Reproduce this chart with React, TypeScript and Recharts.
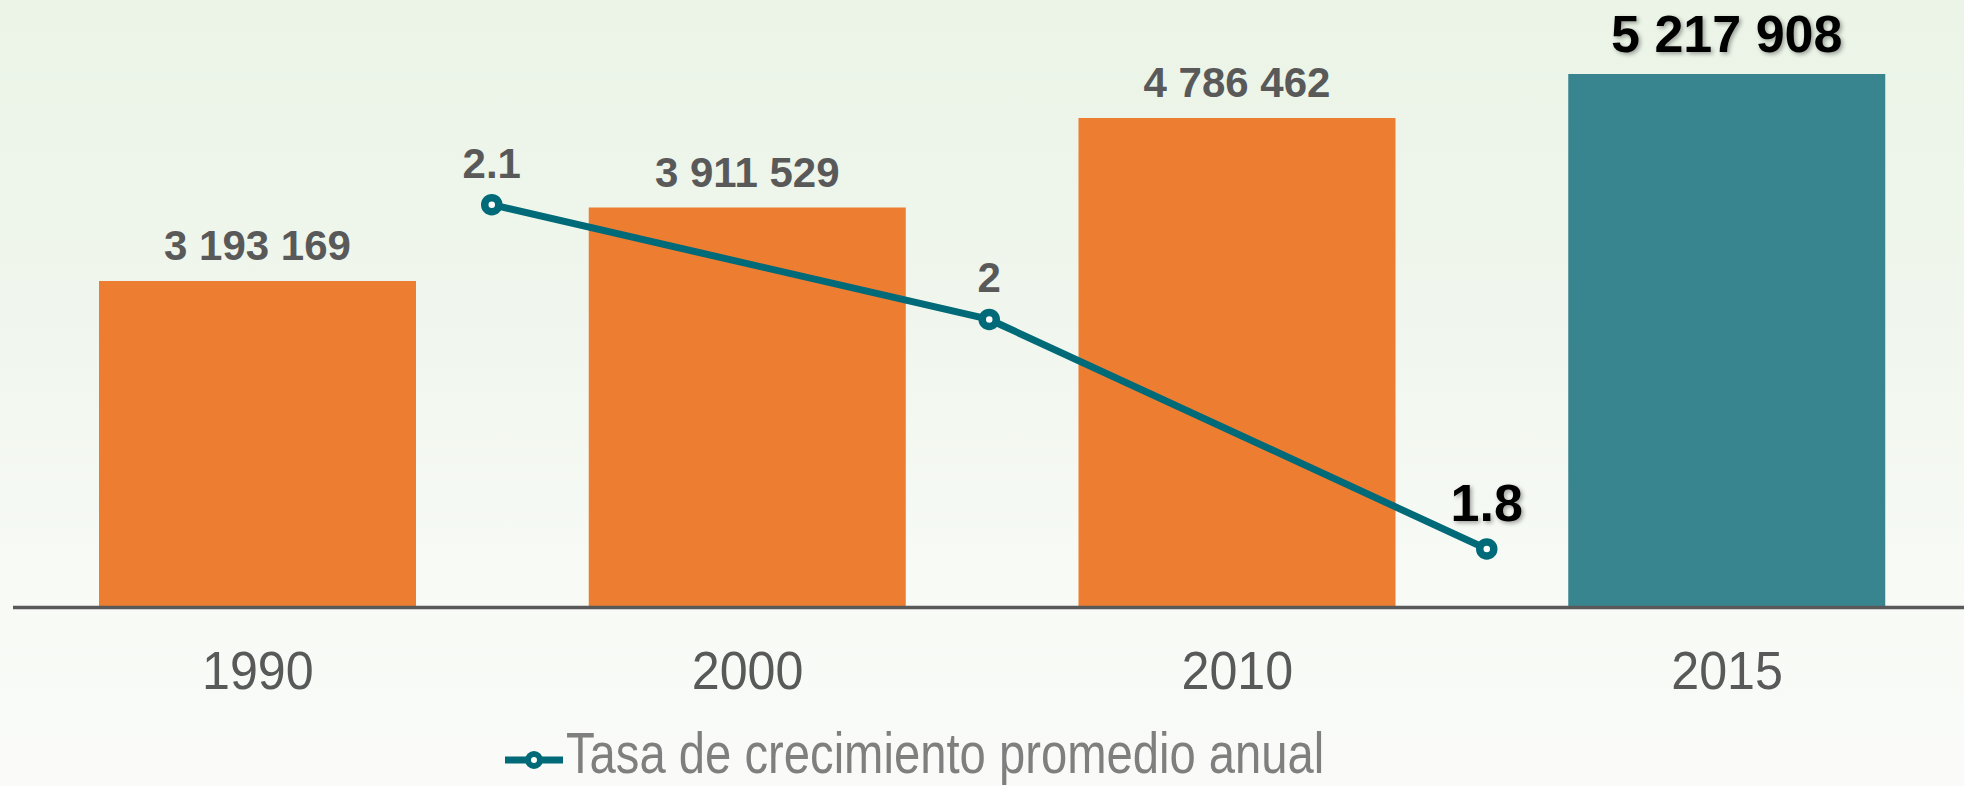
import { Bar, Cell, ComposedChart, LabelList, Legend, Line, XAxis, YAxis } from "recharts"

const years = ["1990", "2000", "2010", "2015"]
const population = [3193169, 3911529, 4786462, 5217908]
const periods = ["1990-2000", "2000-2010", "2010-2015"]
const growthRate = [2.1, 2.0, 1.8]

const barData = years.map((year, i) => ({ year, population: population[i] }))
const rateData = periods.map((period, i) => ({ period, rate: growthRate[i] }))

const FONT = '"Liberation Sans", Arial, sans-serif'
const ORANGE = "#ED7D31"
const TEAL_BAR = "#38848F"
const TEAL_LINE = "#006A78"
const GRAY = "#595959"
const shadow = { filter: "drop-shadow(2px 2px 2px rgba(0,0,0,0.35))" }

const fmt = (v: number) => String(v).replace(/\B(?=(\d{3})+(?!\d))/g, " ")

const box = (props: any) => {
  const vb = props.viewBox ?? props
  return { x: vb.x ?? props.x, y: vb.y ?? props.y, width: vb.width ?? props.width ?? 0 }
}

const BarLabel = (props: any) => {
  const { x, y, width } = box(props)
  const last = props.index === years.length - 1
  return (
    <text
      x={x + width / 2}
      y={y - (last ? 22 : 21)}
      textAnchor="middle"
      fontFamily={FONT}
      fontWeight="bold"
      fontSize={last ? 52 : 42}
      fill={last ? "#000" : GRAY}
      style={last ? shadow : undefined}
    >
      {fmt(props.value)}
    </text>
  )
}

const RateLabel = (props: any) => {
  const { x, y } = box(props)
  const last = props.index === periods.length - 1
  return (
    <text
      x={x}
      y={y - (last ? 28 : 27)}
      textAnchor="middle"
      fontFamily={FONT}
      fontWeight="bold"
      fontSize={last ? 52 : 42}
      fill={last ? "#000" : GRAY}
      style={last ? shadow : undefined}
    >
      {props.value}
    </text>
  )
}

// tick font is a bit narrower than Arial in the original
const YearTick = (props: any) => {
  const { x, y, payload } = props
  return (
    <g transform={`translate(${x},${y}) scale(0.93,1)`}>
      <text x={0} y={0} dy={82} textAnchor="middle" fontFamily={FONT} fontSize={54} fill={GRAY}>
        {payload.value}
      </text>
    </g>
  )
}

const LegendContent = () => (
  <svg width={830} height={50} style={{ overflow: "visible" }}>
    <line x1={0} y1={24} x2={58} y2={24} stroke={TEAL_LINE} strokeWidth={7} />
    <circle cx={29} cy={24} r={6} fill="#fff" stroke={TEAL_LINE} strokeWidth={6} />
    <g transform="translate(61,37) scale(0.814,1)">
      <text x={0} y={0} fontFamily={FONT} fontSize={58} fill="#7F7F7F">
        Tasa de crecimiento promedio anual
      </text>
    </g>
  </svg>
)

export default function App() {
  return (
    <div
      style={{
        position: "absolute",
        top: 0,
        left: 0,
        width: 1964,
        height: 786,
        overflow: "hidden",
        background: "linear-gradient(to bottom, #ebf4e7 0%, #f0f6ed 40%, #f7faf5 72%, #fafbf9 100%)",
      }}
    >
      <ComposedChart
        width={1972}
        height={786}
        data={barData}
        margin={{ top: 5, right: 0, left: 13, bottom: 0 }}
      >
        <XAxis
          dataKey="year"
          xAxisId="years"
          height={128.5}
          tickLine={false}
          tickSize={0}
          tickMargin={0}
          axisLine={{ stroke: GRAY, strokeWidth: 3.5 }}
          tick={<YearTick />}
          interval={0}
        />
        <XAxis
          dataKey="period"
          xAxisId="periods"
          scale="band"
          hide
          height={0}
          padding={{ left: 230, right: 236.5 }}
        />
        <YAxis yAxisId="pop" hide domain={[0, 5892000]} allowDataOverflow />
        <YAxis yAxisId="rate" hide domain={[1.749, 2.274]} allowDataOverflow />
        <Legend
          verticalAlign="bottom"
          content={<LegendContent />}
          wrapperStyle={{ left: 505, top: 736, width: 830, height: 50 }}
        />
        <Bar
          dataKey="population"
          xAxisId="years"
          yAxisId="pop"
          barSize={317}
          isAnimationActive={false}
          legendType="none"
        >
          {years.map((y, i) => (
            <Cell key={y} fill={i === years.length - 1 ? TEAL_BAR : ORANGE} />
          ))}
          <LabelList dataKey="population" position="top" content={<BarLabel />} />
        </Bar>
        <Line
          data={rateData}
          dataKey="rate"
          xAxisId="periods"
          yAxisId="rate"
          stroke={TEAL_LINE}
          strokeWidth={7}
          dot={{ r: 7, fill: "#fff", stroke: TEAL_LINE, strokeWidth: 7.5 }}
          isAnimationActive={false}
        >
          <LabelList dataKey="rate" position="top" content={<RateLabel />} />
        </Line>
      </ComposedChart>
    </div>
  )
}
